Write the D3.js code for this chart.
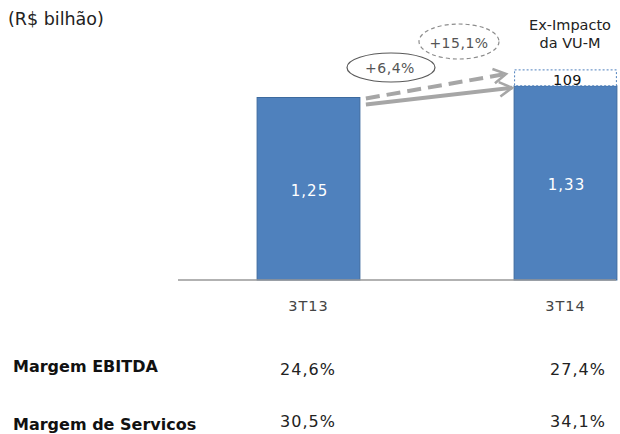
<!DOCTYPE html>
<html><head><meta charset="utf-8">
<script src="https://cdn.jsdelivr.net/npm/d3@7"></script>
<style>body{margin:0;background:#fff}svg{display:block;font-family:"DejaVu Sans",sans-serif}</style>
</head><body>
<svg id="c" width="620" height="434"></svg>
<script>
const categories = ["3T13", "3T14"];
const values = [1.25, 1.33];
const valueLabels = ["1,25", "1,33"];
const exImpact = [0, 0.109];
const exImpactLabels = ["", "109"];
const growthLabels = ["+6,4%", "+15,1%"];
const marginRows = ["Margem EBITDA", "Margem de Servicos"];
const ebitdaMargin = ["24,6%", "27,4%"];
const serviceMargin = ["30,5%", "34,1%"];

const svg = d3.select("#c");
const x = d3.scaleBand().domain(categories).range([180, 694]).paddingInner(0.6).paddingOuter(0.3);
const y = d3.scaleLinear().domain([0, 1.5]).range([280, 61]);
const bw = x.bandwidth();

svg.append("text").attr("x", 8).attr("y", 25).attr("font-size", 17.5).attr("fill", "#222").text("(R$ bilhão)");

// bars
svg.selectAll("rect.bar").data(values).join("rect")
  .attr("x", (d, i) => x(categories[i])).attr("width", bw)
  .attr("y", d => y(d)).attr("height", d => y(0) - y(d))
  .attr("fill", "#4f81bd").attr("stroke", "#3d6a9e").attr("stroke-width", 1);

// ex-impact box
svg.selectAll("rect.ex").data(exImpact).join("rect")
  .filter(d => d > 0)
  .attr("x", x(categories[1]) + 0.5).attr("width", bw - 1)
  .attr("y", d => y(values[1] + d)).attr("height", d => y(values[1]) - y(values[1] + d))
  .attr("fill", "#fff").attr("stroke", "#4f81bd").attr("stroke-dasharray", "2,2");
svg.append("text").attr("x", x(categories[1]) + bw / 2 + 2)
  .attr("y", y(values[1]) - 1)
  .attr("text-anchor", "middle").attr("font-size", 14.5).attr("letter-spacing", 0.5).attr("fill", "#111").text(exImpactLabels[1]);

// axis line
svg.append("line").attr("x1", 178).attr("x2", 616).attr("y1", 280).attr("y2", 280)
  .attr("stroke", "#999").attr("stroke-width", 1.5);

// value labels
svg.selectAll("text.v").data(values).join("text")
  .attr("x", (d, i) => x(categories[i]) + bw / 2 + 1)
  .attr("y", d => (y(d) + y(0)) / 2 + 7)
  .attr("text-anchor", "middle").attr("font-size", 15).attr("letter-spacing", 1).attr("fill", "#fff").text((d, i) => valueLabels[i]);

// category labels
svg.selectAll("text.cat").data(categories).join("text")
  .attr("x", d => x(d) + bw / 2).attr("y", 311)
  .attr("text-anchor", "middle").attr("font-size", 14.5).attr("letter-spacing", 1).attr("fill", "#444").text(d => d);

// arrows
const defs = svg.append("defs");
defs.append("marker").attr("id", "ah").attr("viewBox", "0 0 10 10").attr("refX", 8).attr("refY", 5)
  .attr("markerWidth", 4.5).attr("markerHeight", 4.5).attr("orient", "auto").attr("markerUnits", "strokeWidth")
  .append("path").attr("d", "M1,1 L8,5 L1,9").attr("fill", "none").attr("stroke", "#a6a6a6").attr("stroke-width", 1.4);
const x0 = x(categories[0]) + bw + 6, x1 = x(categories[1]);
svg.append("line").attr("x1", x0).attr("y1", y(values[0]) + 7).attr("x2", x1 - 2).attr("y2", y(values[1]) + 2)
  .attr("stroke", "#a6a6a6").attr("stroke-width", 4).attr("marker-end", "url(#ah)");
svg.append("line").attr("x1", x0).attr("y1", y(values[0]) + 1).attr("x2", x1 - 8).attr("y2", y(values[1] + exImpact[1]) + 4)
  .attr("stroke", "#a6a6a6").attr("stroke-width", 4).attr("stroke-dasharray", "14,7").attr("marker-end", "url(#ah)");

// growth ellipses
svg.append("ellipse").attr("cx", 391).attr("cy", 67.5).attr("rx", 44).attr("ry", 14.5)
  .attr("fill", "#fff").attr("stroke", "#595959").attr("stroke-width", 1.2);
svg.append("text").attr("x", 390).attr("y", 73).attr("text-anchor", "middle").attr("font-size", 14).attr("letter-spacing", 0.5).attr("fill", "#555").text(growthLabels[0]);
svg.append("ellipse").attr("cx", 459).attr("cy", 41.5).attr("rx", 40).attr("ry", 17.5)
  .attr("fill", "none").attr("stroke", "#8c8c8c").attr("stroke-width", 1.2).attr("stroke-dasharray", "4,3");
svg.append("text").attr("x", 459).attr("y", 48).attr("text-anchor", "middle").attr("font-size", 14).attr("letter-spacing", 0.5).attr("fill", "#555").text(growthLabels[1]);

// ex-impact header
svg.append("text").attr("x", 570).attr("y", 30).attr("text-anchor", "middle").attr("font-size", 14.5).attr("fill", "#222").text("Ex-Impacto");
svg.append("text").attr("x", 570).attr("y", 48).attr("text-anchor", "middle").attr("font-size", 14.5).attr("fill", "#222").text("da VU-M");

// margin table
const labelY = [372, 430];
const valY = [375, 427];
const rowVals = [ebitdaMargin, serviceMargin];
const colX = [308, 578];
marginRows.forEach((r, i) => {
  svg.append("text").attr("x", 13).attr("y", labelY[i]).attr("font-size", 16).attr("font-weight", "bold").attr("fill", "#111").text(r);
  rowVals[i].forEach((v, j) => {
    svg.append("text").attr("x", colX[j]).attr("y", valY[i]).attr("text-anchor", "middle")
      .attr("font-size", 16).attr("letter-spacing", 1).attr("fill", "#222").text(v);
  });
});
</script>
</body></html>
